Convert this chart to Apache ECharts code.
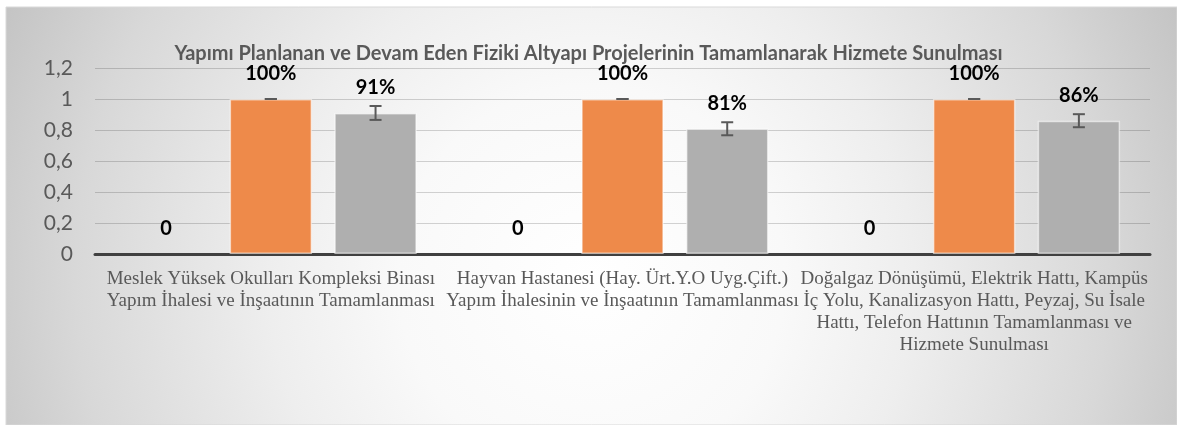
<!DOCTYPE html>
<html>
<head>
<meta charset="utf-8">
<script src="https://cdn.jsdelivr.net/npm/echarts@6/dist/echarts.min.js"></script>
<style>
  html, body { margin: 0; padding: 0; background: #fff; }
  #chart { width: 1177px; height: 425px; }
</style>
</head>
<body>
<div id="chart"></div>
<script>
// veriler
const categories = [
  'Meslek Yüksek Okulları Kompleksi Binası\nYapım İhalesi ve İnşaatının Tamamlanması',
  'Hayvan Hastanesi (Hay. Ürt.Y.O Uyg.Çift.)\nYapım İhalesinin ve İnşaatının Tamamlanması',
  'Doğalgaz Dönüşümü, Elektrik Hattı, Kampüs\nİç Yolu, Kanalizasyon Hattı, Peyzaj, Su İsale\nHattı, Telefon Hattının Tamamlanması ve\nHizmete Sunulması'
]
const baseValues = [0, 0, 0]
const targetValues = [1, 1, 1]
const actualValues = [0.91, 0.81, 0.86]
const targetErrLow = [1, 1, 1]
const targetErrHigh = [1, 1, 1]
const actualErrLow = [0.865, 0.766, 0.818]
const actualErrHigh = [0.955, 0.85, 0.902]
const yTicks = { min: 0, max: 1.2, interval: 0.2 }

const CAT_GAP = 0.17
const BAR_GAP = 0.27
const N_SERIES = 3

const chart = echarts.init(document.getElementById('chart'))

// hata çubukları için custom series
const errorSeries = (low, high, slot) => ({
  type: 'custom',
  silent: true,
  z: 5,
  data: low.map((l, i) => [i, l, high[i]]),
  renderItem: (params, api) => {
    const catW = api.size([1, 0])[0]
    const bw = catW * (1 - CAT_GAP) / (N_SERIES + (N_SERIES - 1) * BAR_GAP)
    const offset = (slot - 1) * bw * (1 + BAR_GAP)
    const lo = api.coord([api.value(0), api.value(1)])
    const hi = api.coord([api.value(0), api.value(2)])
    const x = lo[0] + offset
    const cap = 6
    const style = { stroke: '#595959', lineWidth: 2 }
    return {
      type: 'group',
      children: [
        { type: 'line', shape: { x1: x, y1: lo[1], x2: x, y2: hi[1] }, style },
        { type: 'line', shape: { x1: x - cap, y1: lo[1], x2: x + cap, y2: lo[1] }, style },
        { type: 'line', shape: { x1: x - cap, y1: hi[1], x2: x + cap, y2: hi[1] }, style }
      ]
    }
  }
})

const labelStyle = {
  show: true,
  position: 'top',
  distance: 15,
  color: '#000',
  fontFamily: 'Lato',
  fontWeight: 'bold',
  fontSize: 20
}

const option = {
  animation: false,
  graphic: [{
    type: 'rect',
    z: -10,
    silent: true,
    shape: { x: 6, y: 7, width: 1171, height: 418 },
    style: {
      fill: new echarts.graphic.RadialGradient(0.5, 0.65, 1.54, [
        { offset: 0, color: '#ffffff' },
        { offset: 0.3, color: '#f9f9f9' },
        { offset: 0.5, color: '#eeeeee' },
        { offset: 0.8, color: '#d8d8d8' },
        { offset: 1, color: '#c4c4c4' }
      ]),
      stroke: '#d9d9d9',
      lineWidth: 1
    }
  }],
  title: {
    text: 'Yapımı Planlanan ve Devam Eden Fiziki Altyapı Projelerinin Tamamlanarak Hizmete Sunulması',
    left: 'center',
    top: 44,
    padding: 0,
    textStyle: {
      fontFamily: 'Lato',
      fontWeight: 'bold',
      fontSize: 20,
      color: '#595959'
    }
  },
  grid: { left: 95, right: 27, top: 68, bottom: 171 },
  xAxis: {
    type: 'category',
    data: categories,
    axisLine: { lineStyle: { color: '#404040', width: 3 } },
    axisTick: { show: false },
    axisLabel: {
      interval: 0,
      margin: 14,
      color: '#595959',
      fontFamily: 'Liberation Serif',
      fontSize: 19,
      lineHeight: 22,
      align: 'center'
    }
  },
  yAxis: {
    type: 'value',
    min: yTicks.min,
    max: yTicks.max,
    interval: yTicks.interval,
    axisLine: { show: false },
    axisTick: { show: false },
    axisLabel: {
      margin: 22,
      color: '#595959',
      fontFamily: 'Lato',
      fontSize: 21,
      formatter: v => String(+v.toFixed(1)).replace('.', ',')
    },
    splitLine: { lineStyle: { color: 'rgba(0,0,0,0.17)', width: 1 } }
  },
  series: [
    {
      type: 'bar',
      data: baseValues,
      barCategoryGap: (CAT_GAP * 100) + '%',
      barGap: (BAR_GAP * 100) + '%',
      itemStyle: { color: '#4472C4', borderWidth: 0 },
      label: { ...labelStyle, formatter: p => String(p.value) }
    },
    {
      type: 'bar',
      data: targetValues,
      itemStyle: { color: '#EE8A4A', borderColor: 'rgba(255,255,255,0.55)', borderWidth: 1.5 },
      label: { ...labelStyle, formatter: p => Math.round(p.value * 100) + '%' }
    },
    {
      type: 'bar',
      data: actualValues,
      itemStyle: { color: '#AFAFAF', borderColor: 'rgba(255,255,255,0.55)', borderWidth: 1.5 },
      label: { ...labelStyle, formatter: p => Math.round(p.value * 100) + '%' }
    },
    errorSeries(targetErrLow, targetErrHigh, 1),
    errorSeries(actualErrLow, actualErrHigh, 2)
  ]
}

chart.setOption(option)
</script>
</body>
</html>
